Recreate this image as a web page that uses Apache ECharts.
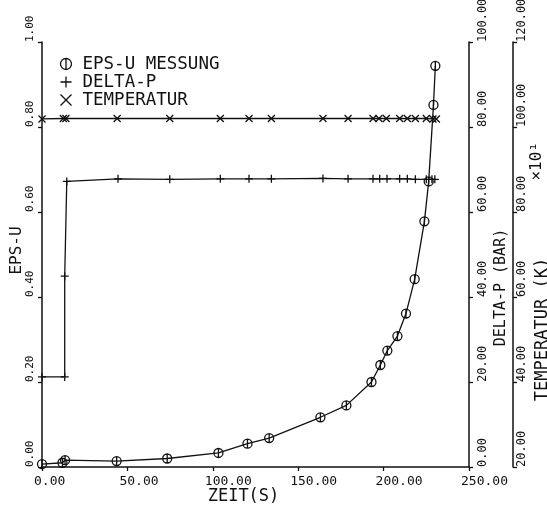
<!DOCTYPE html>
<html>
<head>
<meta charset="utf-8">
<script src="https://cdn.jsdelivr.net/npm/echarts@6/dist/echarts.min.js"></script>
<style>
  html, body { margin: 0; padding: 0; background: #ffffff; }
  #chart { width: 547px; height: 512px; }
</style>
</head>
<body>
<div id="chart"></div>
<script>
// Messreihe EPS-U (Dehnung) über der Zeit in s
const epsTime  = [0, 12, 13.5, 43.7, 73.3, 103.3, 120.3, 133, 163, 178.2, 192.9, 198.1, 202.2, 208.1, 213.1, 218.2, 223.9, 226.4, 229.2, 230.3];
const epsValue = [0.007, 0.010, 0.016, 0.014, 0.020, 0.033, 0.055, 0.068, 0.117, 0.145, 0.200, 0.240, 0.274, 0.308, 0.361, 0.442, 0.578, 0.672, 0.852, 0.944];

// Druckdifferenz DELTA-P in bar
const dpTime  = [0, 13.3, 13.3, 14.5, 44.5, 74.8, 104.4, 121.2, 134.3, 164.5, 179.2, 193.8, 197.7, 202, 209.4, 213.9, 218.6, 225, 228.3, 230];
const dpValue = [21.2, 21.2, 44.9, 67.2, 67.8, 67.7, 67.8, 67.8, 67.8, 67.9, 67.8, 67.8, 67.8, 67.8, 67.8, 67.8, 67.7, 67.7, 67.7, 67.7];

// Temperatur in K x 10^1
const tempTime  = [0, 12.5, 14, 44, 74.8, 104.4, 121.2, 134.3, 164.5, 179.2, 193.8, 197.3, 201.6, 209.4, 213.9, 218.6, 225, 228.9, 230.9];
const tempValue = [101.9, 102.0, 102.0, 102.0, 102.0, 102.0, 102.0, 102.0, 102.0, 102.0, 102.0, 102.0, 102.0, 102.0, 102.0, 102.0, 102.0, 101.9, 101.9];

// Achsenteilungen
const timeTicks = [0, 50, 100, 150, 200, 250];
const epsTicks  = [0, 0.2, 0.4, 0.6, 0.8, 1.0];
const dpTicks   = [0, 20, 40, 60, 80, 100];
const tempTicks = [20, 40, 60, 80, 100, 120];

const seriesNames = ['EPS-U MESSUNG', 'DELTA-P', 'TEMPERATUR'];
const axisNames = { time: 'ZEIT(S)', eps: 'EPS-U', dp: 'DELTA-P (BAR)', temp: 'TEMPERATUR (K)', tempScale: '\u00d710\u00b9' };

const FONT = 'DejaVu Sans Mono';
const INK = '#111111';

// Plotter-Symbole: Kreis mit Strich, Plus, Kreuz
const SYM_CIRCLE = 'path://M10,0 A10,10 0 1,1 10,20 A10,10 0 1,1 10,0 Z M10,0 L10,20';
const SYM_PLUS   = 'path://M10,0 L10,20 M0,10 L20,10';
const SYM_CROSS  = 'path://M0,0 L20,20 M0,20 L20,0';

const zip = (a, b) => a.map((v, i) => [v, b[i]]);
const fmt2 = v => v.toFixed(2);

function valueAxis(ticks, extra) {
  return Object.assign({
    type: 'value',
    min: ticks[0],
    max: ticks[ticks.length - 1],
    interval: ticks[1] - ticks[0],
    nameMoveOverlap: false,
    splitLine: { show: false },
    axisLine: { show: true, onZero: false, lineStyle: { color: INK, width: 1.5 } },
    axisTick: { show: true, inside: false, length: 4, lineStyle: { color: INK, width: 1.3 } }
  }, extra);
}

const stroke = { color: 'none', borderColor: INK, borderWidth: 1.3 };

const chart = echarts.init(document.getElementById('chart'), null, { renderer: 'canvas' });
chart.setOption({
  animation: false,
  backgroundColor: '#ffffff',
  textStyle: { fontFamily: FONT, color: INK },
  grid: { left: 42, right: 78, top: 42, bottom: 45, containLabel: false, outerBoundsMode: 'none' },
  legend: {
    orient: 'vertical',
    left: 53,
    top: 50,
    itemWidth: 23,
    itemHeight: 11,
    itemGap: 0,
    selectedMode: false,
    textStyle: { fontFamily: FONT, fontSize: 17.5, color: INK, lineHeight: 16 },
    itemStyle: stroke,
    data: [
      { name: seriesNames[0], icon: SYM_CIRCLE },
      { name: seriesNames[1], icon: SYM_PLUS },
      { name: seriesNames[2], icon: SYM_CROSS }
    ]
  },
  xAxis: valueAxis(timeTicks, {
    name: axisNames.time,
    nameLocation: 'middle',
    nameGap: 21,
    nameTextStyle: { fontFamily: FONT, fontSize: 17, color: INK, padding: [0, 24, 0, 0] },
    axisLabel: { formatter: fmt2, fontFamily: FONT, fontSize: 13, color: INK, margin: 8, align: 'left', padding: [0, 0, 0, -8] }
  }),
  yAxis: [
    valueAxis(epsTicks, {
      position: 'left',
      name: axisNames.eps,
      nameLocation: 'middle',
      nameRotate: 90,
      nameGap: 17,
      nameTextStyle: { fontFamily: FONT, fontSize: 16, color: INK, padding: [0, 0, 0, 8] },
      axisLabel: { formatter: fmt2, rotate: 90, align: 'left', fontFamily: FONT, fontSize: 11, color: INK, margin: 6 }
    }),
    valueAxis(dpTicks, {
      position: 'right',
      offset: 0,
      name: axisNames.dp,
      nameLocation: 'middle',
      nameRotate: 90,
      nameGap: 25,
      nameTextStyle: { fontFamily: FONT, fontSize: 15, color: INK, padding: [0, 66, 0, 0] },
      axisLabel: { formatter: fmt2, rotate: 90, align: 'left', fontFamily: FONT, fontSize: 12, color: INK, margin: 8 }
    }),
    valueAxis(tempTicks, {
      position: 'right',
      offset: 44,
      name: axisNames.temp,
      nameLocation: 'middle',
      nameRotate: 90,
      nameGap: 21,
      nameTextStyle: { fontFamily: FONT, fontSize: 17, color: INK, padding: [0, 150, 0, 0] },
      axisLabel: { formatter: fmt2, rotate: 90, align: 'left', fontFamily: FONT, fontSize: 12, color: INK, margin: 3 }
    })
  ],
  graphic: [{
    type: 'text',
    left: 529,
    top: 142,
    rotation: Math.PI / 2,
    style: { text: axisNames.tempScale, fontFamily: FONT, fontSize: 16, fill: INK }
  }],
  series: [
    {
      name: seriesNames[0],
      type: 'line',
      yAxisIndex: 0,
      data: zip(epsTime, epsValue),
      symbol: SYM_CIRCLE,
      symbolSize: 9,
      showAllSymbol: true,
      itemStyle: stroke,
      lineStyle: { color: INK, width: 1.3 },
      z: 3
    },
    {
      name: seriesNames[1],
      type: 'line',
      yAxisIndex: 1,
      data: zip(dpTime, dpValue),
      symbol: SYM_PLUS,
      symbolSize: 8,
      showAllSymbol: true,
      itemStyle: stroke,
      lineStyle: { color: INK, width: 1.3 },
      z: 2
    },
    {
      name: seriesNames[2],
      type: 'line',
      yAxisIndex: 2,
      data: zip(tempTime, tempValue),
      symbol: SYM_CROSS,
      symbolSize: 7,
      showAllSymbol: true,
      itemStyle: stroke,
      lineStyle: { color: INK, width: 1.3 },
      z: 2
    }
  ]
});
</script>
</body>
</html>
